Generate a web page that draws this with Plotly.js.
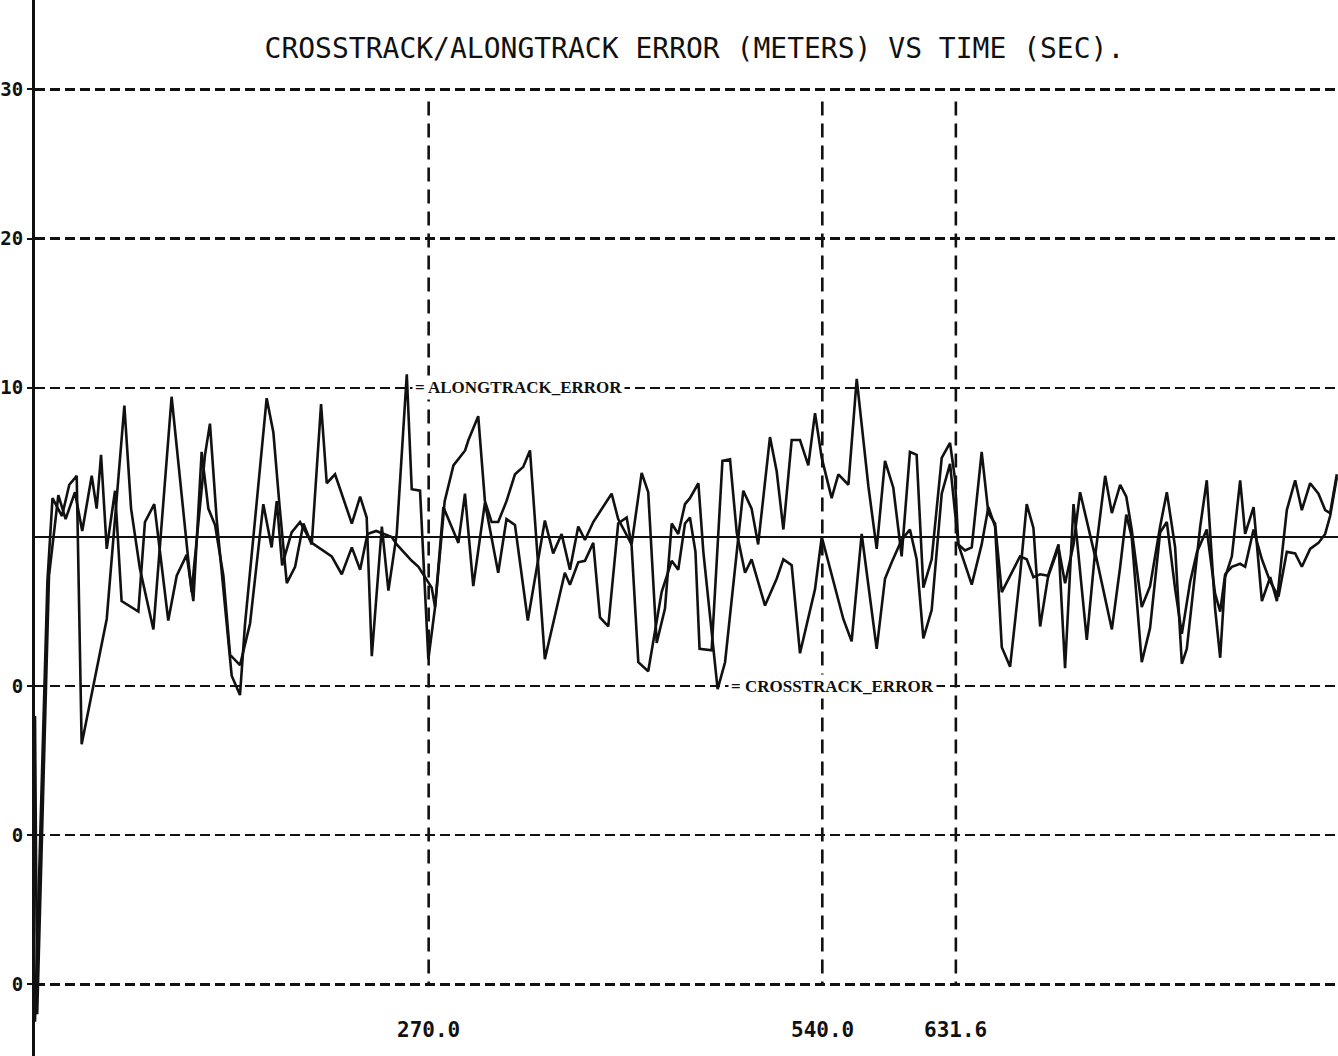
<!DOCTYPE html>
<html>
<head>
<meta charset="utf-8">
<script src="https://cdn.plot.ly/plotly-3.0.1.min.js"></script>
<style>html,body{margin:0;padding:0;background:#fff;}#chart{width:1338px;height:1056px;}</style>
</head>
<body>
<div id="chart"></div>
<script>
// ---- data (time in seconds, error in meters) ----
const alongTime = [0,8.5,12.0,18.5,23.5,28.6,32.0,49.2,61.3,65.9,71.9,81.2,93.7,107.4,116.6,120.0,124.6,134.9,140.6,144.0,158.9,163.5,167.8,172.7,178.4,184.1,189.8,196.2,200.1,205.8,217.3,223.0,227.5,231.0,237.9,242.4,248.1,255.0,258.4,264.1,269.8,274.4,280.1,290.4,294.9,300.6,308.6,317.7,323.4,329.2,338.0,349.7,355.4,361.2,366.9,372.6,377.2,382.9,395.5,400.0,409.2,416.1,420.6,426.4,432.1,436.7,441.2,445.8,449.2,455.0,458.4,468.2,473.3,485.8,491.5,496.0,504.1,508.7,513.3,519.0,524.7,530.4,535.0,539.6,546.4,551.0,557.9,563.6,571.6,577.3,583.0,588.7,594.4,600.1,604.7,609.3,615.0,621.9,627.6,631.0,633.3,637.9,642.5,649.3,653.9,658.5,663.1,675.6,680.2,684.8,689.4,695.1,702.0,706.5,712.3,716.8,727.1,734.0,738.6,744.3,748.5,752.2,759.1,764.8,771.7,776.3,782.0,786.6,790.0,799.2,803.7,809.4,812.9,816.3,820.9,826.6,830.0,835.8,841.5,847.2,851.8,858.6,864.3,868.9,874.6,880.3,884.9,888.3,892.9];
const alongErr = [-32.5,-3.0,2.6,1.4,3.5,4.1,-13.9,-5.5,8.8,1.9,-2.1,-6.2,9.4,-3.7,5.5,7.6,1.2,-9.3,-10.6,-5.9,9.3,7.0,2.0,-3.1,-2.0,0.9,-0.5,8.9,3.6,4.2,0.9,2.7,1.3,-8.0,0.7,-3.6,0.2,10.9,3.2,3.1,-8.2,-4.7,2.0,-0.4,2.9,-3.3,2.3,-2.4,1.2,0.8,-5.6,1.1,-1.1,0.2,-2.2,0.7,-0.2,1.0,2.9,1.2,-0.5,4.3,3.0,-7.1,-4.8,0.9,0.2,2.2,2.6,3.6,-1.0,-10.2,-8.4,3.1,1.9,-0.5,6.7,4.4,0.5,6.5,6.5,4.8,8.3,5.3,2.6,4.2,3.5,10.6,3.4,-0.8,5.1,3.3,-1.3,5.7,5.5,-3.4,-1.5,5.3,6.3,3.9,-0.5,-0.9,-0.7,5.7,1.6,0.9,-3.7,-1.3,-1.5,-2.7,-2.5,-2.6,-0.7,-3.1,-0.5,3.0,-1.3,4.1,1.6,3.5,2.7,0.5,-4.7,-3.3,0.7,3.0,-0.7,-8.5,-7.5,0.7,3.8,-4.8,-8.1,-2.7,-1.3,3.8,0.2,2.0,-4.3,-2.7,-4.3,1.8,3.8,1.8,3.6,2.9,1.8,1.6,4.2];

const crossTime = [0,1.5,9.6,16.0,21.0,27.4,32.4,38.9,42.3,45.3,49.2,54.9,59.4,70.9,75.4,81.8,91.4,97.2,104.0,108.6,114.3,118.9,123.5,129.2,133.8,140.6,147.5,156.6,162.3,165.8,169.5,176.0,181.8,189.8,203.5,210.4,217.3,223.0,228.0,234.0,244.7,248.1,258.4,263.0,272.1,274.4,281.0,287.0,295.0,297.3,304.0,308.6,313.2,317.7,323.4,329.2,334.9,339.5,349.7,355.4,363.4,366.9,372.6,377.2,382.9,387.5,393.2,400.0,405.8,409.2,413.8,420.6,429.8,436.7,441.2,445.8,449.2,453.0,455.8,464.1,471.5,476.7,481.3,487.0,491.5,500.7,508.7,513.3,519.0,524.7,535.0,539.6,546.4,554.4,560.1,567.0,577.3,583.0,587.6,594.4,600.1,604.7,609.3,615.0,621.9,627.6,633.3,642.5,649.3,653.9,658.5,663.1,668.8,675.6,680.2,684.8,689.4,695.1,702.0,706.5,712.3,721.4,727.1,738.6,744.3,748.5,752.2,759.1,764.8,771.7,776.3,782.0,786.6,792.3,797.0,803.7,809.4,812.9,816.3,820.9,826.6,830.0,835.8,841.5,847.2,852.9,858.6,864.3,868.9,874.6,880.3,884.9,888.3,892.9];
const crossErr = [-12,-32,-2.6,2.8,1.2,3.0,0.4,4.1,1.9,5.5,-0.8,3.1,-4.3,-5.0,1.0,2.2,-5.6,-2.6,-1.2,-4.3,5.7,1.9,0.8,-2.6,-7.9,-8.6,-5.8,2.2,-0.7,2.4,-1.9,0.3,1.0,-0.4,-1.3,-2.5,-0.7,-2.2,0.2,0.4,0.0,-0.5,-1.6,-2.0,-3.4,-4.7,2.4,4.8,5.8,6.5,8.1,2.4,1.0,1.0,2.4,4.2,4.7,5.8,-8.2,-5.8,-2.4,-3.2,-1.7,-1.6,-0.4,-5.4,-6.0,0.9,1.3,-0.6,-8.4,-9.0,-3.7,-1.6,-2.2,0.9,1.3,-1.0,-7.5,-7.6,5.1,5.2,0.3,-2.4,-1.5,-4.6,-2.8,-1.5,-1.9,-7.8,-3.5,0.0,-2.5,-5.5,-7.0,0.2,-7.5,-2.8,-1.7,-0.2,0.5,-1.5,-6.8,-4.9,2.9,4.9,-0.5,-3.2,-0.5,2.0,0.7,-7.4,-8.7,-2.6,2.2,0.6,-6.0,-2.5,-0.5,-8.8,2.2,-6.9,-1.0,-6.2,-2.0,1.5,0.0,-8.4,-6.1,0.3,1.0,-3.5,-6.5,-3.0,-1.0,0.5,-3.8,-5.0,-2.5,-2.0,-1.8,-2.0,0.5,-1.5,-3.0,-4.0,-1.0,-1.1,-2.0,-0.8,-0.4,0.2,1.4,4.0];

const yTickVals = [30, 20, 10, -10, -20, -30];
const yTickText = ['30', '20', '10', '0', '0', '0'];
const markTimes = [270.0, 540.0, 631.6];
const titleText = 'CROSSTRACK/ALONGTRACK ERROR (METERS) VS TIME (SEC).';
const seriesLabels = ['= ALONGTRACK_ERROR', '= CROSSTRACK_ERROR'];
const labelAnchors = [[258.6, 10], [475.3, -10]];

// ---- chart ----
const lineStyle = {color: '#111', width: 2.6};
const traces = [
  {x: alongTime, y: alongErr, mode: 'lines', line: lineStyle, name: 'ALONGTRACK ERROR', hoverinfo: 'skip'},
  {x: crossTime, y: crossErr, mode: 'lines', line: lineStyle, name: 'CROSSTRACK ERROR', hoverinfo: 'skip'}
];

const shapes = markTimes.map(t => ({
  type: 'line', xref: 'x', yref: 'y', x0: t, x1: t, y0: 29.2, y1: -30,
  line: {color: '#111', width: 2.6, dash: '14px,8px'}, layer: 'above'
}));

const annotations = [];
markTimes.forEach(t => annotations.push({
  x: t, xref: 'x', y: 1 - 1030 / 1056, yref: 'paper', text: t.toFixed(1),
  showarrow: false, xanchor: 'center', yanchor: 'middle',
  font: {family: 'DejaVu Sans Mono', size: 21, color: '#111', weight: 'bold'}
}));
seriesLabels.forEach((s, i) => annotations.push({
  x: labelAnchors[i][0], y: labelAnchors[i][1], xref: 'x', yref: 'y', text: s,
  showarrow: false, xanchor: 'left', yanchor: 'middle', bgcolor: '#fff', borderpad: 2,
  font: {family: 'Liberation Serif', size: 17, color: '#111', weight: 'bold'}
}));

const layout = {
  width: 1338, height: 1056,
  margin: {l: 35, r: 0, t: 0, b: 0},
  paper_bgcolor: '#fff', plot_bgcolor: '#fff',
  showlegend: false,
  title: {text: titleText, x: 0.519, xref: 'container', y: 1 - 48 / 1056, yref: 'container',
          xanchor: 'center', yanchor: 'middle',
          font: {family: 'DejaVu Sans Mono', size: 28, color: '#111'}},
  xaxis: {range: [0, 893.7], showgrid: false, zeroline: false, showline: false,
          showticklabels: false, ticks: '', fixedrange: true},
  yaxis: {range: [-34.8, 36.0], tickvals: yTickVals, ticktext: yTickText,
          ticks: 'outside', ticklen: 5, tickwidth: 2, tickcolor: '#111',
          showline: true, linecolor: '#111', linewidth: 3,
          showgrid: true, gridcolor: '#111', gridwidth: 2.4, griddash: '10px,5px',
          zeroline: true, zerolinecolor: '#111', zerolinewidth: 2.4,
          tickfont: {family: 'DejaVu Sans Mono', size: 19, color: '#111', weight: 'bold'},
          fixedrange: true},
  shapes: shapes,
  annotations: annotations
};

Plotly.newPlot('chart', traces, layout, {displayModeBar: false, staticPlot: true});
</script>
</body>
</html>
